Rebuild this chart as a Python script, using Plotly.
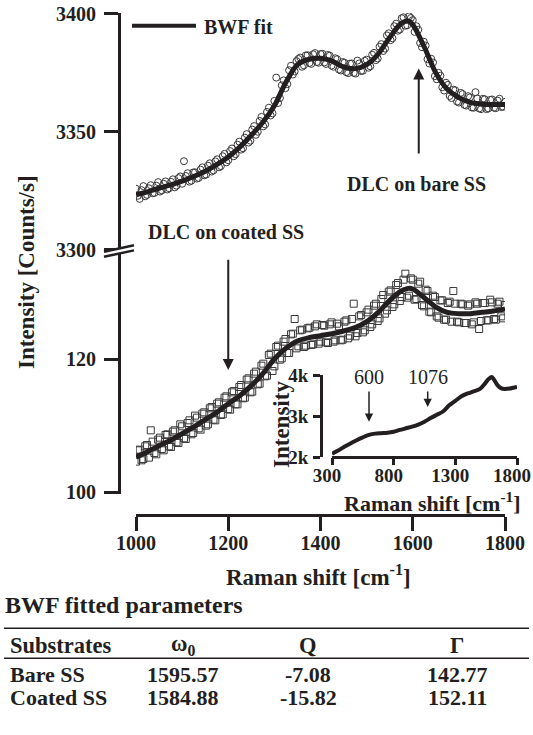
import plotly.graph_objects as go

# ---------------- data ----------------
# Bare SS (upper panel) - measured points (circles), two interleaved sampling grids
bare_x = [1000, 1008, 1016, 1024, 1032, 1040, 1048, 1056, 1064, 1072, 1080, 1088, 1096, 1104, 1112, 1120,
          1128, 1136, 1144, 1152, 1160, 1168, 1176, 1184, 1192, 1200, 1208, 1216, 1224, 1232, 1240, 1248,
          1256, 1264, 1272, 1280, 1288, 1296, 1304, 1312, 1320, 1328, 1336, 1344, 1352, 1360, 1368, 1376,
          1384, 1392, 1400, 1408, 1416, 1424, 1432, 1440, 1448, 1456, 1464, 1472, 1480, 1488, 1496, 1504,
          1512, 1520, 1528, 1536, 1544, 1552, 1560, 1568, 1576, 1584, 1592, 1600, 1608, 1616, 1624, 1632,
          1640, 1648, 1656, 1664, 1672, 1680, 1688, 1696, 1704, 1712, 1720, 1728, 1736, 1744, 1752, 1760,
          1768, 1776, 1784, 1792, 1800]
bare_y = [3325.8, 3321.5, 3326.9, 3323.2, 3327.3, 3324.0, 3328.6, 3325.1, 3328.9, 3326.0, 3329.8, 3327.1,
          3331.0, 3337.5, 3332.4, 3329.2, 3332.8, 3330.4, 3334.9, 3331.8, 3336.6, 3333.6, 3338.3, 3335.4,
          3340.6, 3337.9, 3342.9, 3340.5, 3345.8, 3343.0, 3349.0, 3346.2, 3352.4, 3350.0, 3356.3, 3353.1,
          3360.2, 3357.8, 3373.0, 3364.3, 3371.8, 3370.2, 3378.0, 3375.6, 3380.9, 3377.6, 3382.4, 3379.2,
          3382.9, 3379.6, 3383.0, 3379.4, 3382.6, 3378.1, 3381.2, 3376.4, 3379.6, 3375.3, 3378.9, 3375.0,
          3380.2, 3375.8, 3380.1, 3377.2, 3382.7, 3380.4, 3386.1, 3384.3, 3390.9, 3388.9, 3394.8, 3392.9,
          3398.2, 3395.0, 3399.0, 3397.4, 3394.8, 3387.7, 3388.2, 3380.8, 3381.0, 3373.6, 3375.0, 3368.9,
          3370.8, 3365.2, 3367.9, 3362.8, 3366.5, 3361.4, 3365.1, 3360.3, 3366.8, 3359.9, 3364.0, 3359.6,
          3363.5, 3360.2, 3363.2, 3360.5, 3362.7]
bare_x2 = [1004, 1012, 1020, 1028, 1036, 1044, 1052, 1060, 1068, 1076, 1084, 1092, 1100, 1108, 1116, 1124,
           1132, 1140, 1148, 1156, 1164, 1172, 1180, 1188, 1196, 1204, 1212, 1220, 1228, 1236, 1244, 1252,
           1260, 1268, 1276, 1284, 1292, 1300, 1308, 1316, 1324, 1332, 1340, 1348, 1356, 1364, 1372, 1380,
           1388, 1396, 1404, 1412, 1420, 1428, 1436, 1444, 1452, 1460, 1468, 1476, 1484, 1492, 1500, 1508,
           1516, 1524, 1532, 1540, 1548, 1556, 1564, 1572, 1580, 1588, 1596, 1604, 1612, 1620, 1628, 1636,
           1644, 1652, 1660, 1668, 1676, 1684, 1692, 1700, 1708, 1716, 1724, 1732, 1740, 1748, 1756, 1764,
           1772, 1780, 1788, 1796]
bare_y2 = [3322.8, 3325.2, 3322.6, 3326.0, 3323.9, 3327.1, 3324.6, 3327.9, 3325.5, 3328.7, 3326.4, 3330.3,
           3327.9, 3331.2, 3328.8, 3332.7, 3330.1, 3333.9, 3331.5, 3335.6, 3333.1, 3337.4, 3334.9, 3339.6,
           3337.0, 3341.8, 3339.6, 3344.5, 3342.4, 3347.5, 3345.4, 3350.9, 3348.7, 3354.6, 3352.3, 3358.4,
           3356.9, 3363.1, 3362.2, 3369.7, 3368.5, 3376.1, 3374.3, 3380.0, 3381.5, 3378.2, 3382.5, 3378.8,
           3383.4, 3379.3, 3383.1, 3378.8, 3382.3, 3377.6, 3380.8, 3376.0, 3379.3, 3374.9, 3379.0, 3374.7,
           3379.0, 3375.9, 3380.6, 3377.8, 3383.5, 3381.1, 3387.2, 3385.3, 3391.8, 3389.7, 3395.9, 3393.4,
           3398.6, 3395.2, 3398.3, 3392.4, 3393.3, 3385.9, 3386.6, 3379.0, 3379.4, 3372.3, 3373.8, 3367.5,
           3369.9, 3364.3, 3367.6, 3362.4, 3366.0, 3361.1, 3364.6, 3360.2, 3364.1, 3359.6, 3363.8, 3359.9,
           3363.7, 3360.0, 3364.0, 3360.6]

# Bare SS BWF fit
bare_fit_x = [1000, 1025, 1050, 1075, 1100, 1125, 1150, 1175, 1200, 1225, 1250, 1275, 1300, 1325, 1350,
              1375, 1400, 1425, 1450, 1475, 1500, 1525, 1550, 1575, 1590, 1600, 1625, 1650, 1675, 1700,
              1725, 1750, 1775, 1800]
bare_fit_y = [3323.3, 3324.5, 3326.0, 3327.4, 3329.0, 3331.0, 3333.2, 3336.0, 3339.3, 3343.5, 3348.5,
              3354.0, 3361.0, 3371.0, 3378.5, 3380.8, 3381.2, 3380.0, 3377.5, 3376.8, 3378.5, 3383.0,
              3390.0, 3396.0, 3397.0, 3395.5, 3386.0, 3375.0, 3368.0, 3364.5, 3362.5, 3361.8, 3361.6,
              3361.6]

# Coated SS (lower panel) - measured points (squares)
coat_x = bare_x
coat_y = [104.6, 106.4, 105.0, 107.1, 109.3, 105.9, 107.9, 106.5, 108.6, 106.9, 109.1, 107.5, 110.2, 108.1,
          110.4, 108.7, 111.5, 109.6, 111.8, 110.0, 112.6, 110.9, 113.3, 111.6, 114.2, 112.5, 115.0, 113.2,
          115.8, 114.1, 116.9, 115.0, 117.8, 116.2, 119.0, 117.4, 120.6, 118.2, 121.8, 119.9, 122.6, 120.9,
          123.7, 126.0, 121.9, 124.4, 122.0, 124.7, 122.2, 125.2, 122.6, 125.0, 122.4, 125.5, 122.8, 124.9,
          122.9, 125.8, 123.5, 128.3, 123.9, 126.6, 124.3, 127.4, 125.2, 128.3, 126.1, 129.6, 127.3, 130.3,
          128.2, 131.4, 129.3, 132.8, 129.5, 131.9, 129.0, 131.6, 127.9, 130.2, 127.0, 129.3, 126.2, 128.8,
          125.9, 128.6, 130.2, 125.6, 128.3, 125.4, 128.0, 125.2, 128.5, 124.5, 128.4, 125.8, 128.9, 126.0,
          128.3, 126.4, 128.1]
coat_x2 = bare_x2
coat_y2 = [106.3, 104.8, 106.9, 105.2, 107.6, 105.7, 108.2, 106.3, 108.7, 106.8, 109.3, 107.4, 109.9, 108.0,
           110.8, 108.9, 111.2, 109.4, 112.0, 110.2, 112.8, 110.8, 113.5, 111.7, 114.4, 112.4, 115.2, 113.2,
           116.1, 114.2, 117.1, 115.1, 118.1, 116.3, 119.3, 117.5, 120.8, 118.9, 122.0, 120.1, 123.0, 120.9,
           123.8, 121.6, 124.3, 121.8, 124.6, 122.1, 124.9, 122.3, 125.1, 122.5, 125.2, 122.6, 125.3, 122.8,
           125.6, 123.1, 126.0, 123.4, 126.4, 124.0, 127.0, 124.8, 128.0, 125.7, 129.0, 126.8, 130.1, 127.8,
           131.1, 128.7, 131.9, 129.2, 132.1, 128.9, 131.3, 128.1, 130.4, 127.1, 129.5, 126.4, 128.8, 125.9,
           128.4, 125.6, 128.3, 125.5, 128.2, 125.4, 128.2, 125.5, 128.3, 125.7, 128.4, 125.8, 128.5, 125.9,
           128.6, 126.1]

# Coated SS BWF fit
coat_fit_x = bare_fit_x
coat_fit_y = [105.3, 106.1, 107.0, 107.8, 108.8, 109.8, 110.9, 112.0, 113.3, 114.5, 116.0, 117.8, 120.0,
              121.6, 122.7, 123.2, 123.5, 123.8, 124.2, 124.7, 125.6, 127.0, 128.8, 130.2, 130.6, 130.5,
              129.2, 127.8, 127.0, 126.8, 126.8, 127.0, 127.2, 127.5]

# Inset: full spectrum
inset_x = [300, 350, 400, 450, 500, 550, 600, 650, 700, 750, 800, 850, 900, 950, 1000, 1050, 1100, 1150,
           1200, 1250, 1300, 1350, 1400, 1450, 1500, 1540, 1570, 1595, 1615, 1640, 1670, 1700, 1740, 1770,
           1800]
inset_y = [2080, 2160, 2250, 2330, 2410, 2480, 2540, 2570, 2580, 2590, 2615, 2660, 2700, 2740, 2790, 2860,
           2950, 3030, 3110, 3260, 3370, 3480, 3550, 3600, 3660, 3790, 3900, 3950, 3880, 3760, 3680, 3660,
           3670, 3690, 3710]
inset_marks = [600, 1076]

# Axis ticks
main_xticks = [1000, 1200, 1400, 1600, 1800]
lower_yticks = [100, 120]
upper_yticks = [3300, 3350, 3400]
inset_xticks = [300, 800, 1300, 1800]
inset_yticks = [2000, 3000, 4000]
inset_yticktext = ["2k", "3k", "4k"]

# Table
table_title = "BWF fitted parameters"
table_header = ["Substrates", "ω<sub>0</sub>", "Q", "Γ"]
table_rows = [["Bare SS", "1595.57", "-7.08", "142.77"],
              ["Coated SS", "1584.88", "-15.82", "152.11"]]

# ---------------- layout helpers ----------------
W, H = 533, 735
def PX(px):
    return px / W
def PY(py):
    return 1 - py / H

INK = "#231f20"
MARK = "#3a3a3a"
FONT = "Liberation Serif"

fig = go.Figure()

fig.add_trace(go.Scatter(x=bare_x + bare_x2, y=bare_y + bare_y2, xaxis="x", yaxis="y2", mode="markers",
                         marker=dict(symbol="circle-open", size=7, color=MARK, line=dict(width=1))))
fig.add_trace(go.Scatter(x=bare_fit_x, y=bare_fit_y, xaxis="x", yaxis="y2", mode="lines",
                         line=dict(color=INK, width=5, shape="spline", smoothing=0.9)))
fig.add_trace(go.Scatter(x=coat_x + coat_x2, y=coat_y + coat_y2, xaxis="x", yaxis="y", mode="markers",
                         marker=dict(symbol="square-open", size=7, color=MARK, line=dict(width=1))))
fig.add_trace(go.Scatter(x=coat_fit_x, y=coat_fit_y, xaxis="x", yaxis="y", mode="lines",
                         line=dict(color=INK, width=5, shape="spline", smoothing=0.9)))
fig.add_trace(go.Scatter(x=inset_x, y=inset_y, xaxis="x3", yaxis="y3", mode="lines",
                         line=dict(color=INK, width=4, shape="spline", smoothing=0.8)))

tickfont_main = dict(family=FONT, size=20, color=INK, weight="bold")
tickfont_inset = dict(family=FONT, size=19, color=INK, weight="bold")
common = dict(showgrid=False, zeroline=False, showline=True, linecolor=INK, ticks="outside",
              tickcolor=INK, anchor="free", automargin=False, ticklabeloverflow="allow")

fig.update_layout(
    width=W, height=H, margin=dict(l=0, r=0, t=0, b=0, pad=0, autoexpand=False),
    paper_bgcolor="white", plot_bgcolor="rgba(0,0,0,0)", showlegend=False,
    xaxis=dict(domain=[PX(136), PX(505)], range=[1000, 1800], position=PY(515),
               tickvals=main_xticks, linewidth=3, tickwidth=3, ticklen=14,
               tickfont=tickfont_main, ticklabelstandoff=-5, **common),
    yaxis=dict(domain=[PY(494), PY(249.5)], range=[99.745, 136.43], position=PX(119),
               tickvals=lower_yticks, linewidth=3, tickwidth=3, ticklen=14,
               tickfont=tickfont_main, ticklabelstandoff=4, **common),
    yaxis2=dict(domain=[PY(249.5), PY(13)], range=[3300, 3400.42], position=PX(119),
                tickvals=upper_yticks, linewidth=3, tickwidth=3, ticklen=14,
                tickfont=tickfont_main, ticklabelstandoff=4, **common),
    xaxis3=dict(domain=[PX(332), PX(517)], range=[300, 1800], position=PY(456.7),
                tickvals=inset_xticks, linewidth=2.5, tickwidth=2.5, ticklen=7,
                tickfont=tickfont_inset, ticklabelstandoff=-6, ticklabelshift=-5, **common),
    yaxis3=dict(domain=[PY(457), PY(375)], range=[2000, 4000], position=PX(321),
                tickvals=inset_yticks, ticktext=inset_yticktext, linewidth=2.5, tickwidth=2.5,
                ticklen=7, tickfont=tickfont_inset, ticklabelstandoff=1, **common),
)

ann = []
def txt(x, y, text, size=20, bold=True, xanchor="center", yanchor="middle", angle=0, xref="paper", yref="paper"):
    ann.append(dict(x=x, y=y, xref=xref, yref=yref, text=text, showarrow=False, xanchor=xanchor,
                    yanchor=yanchor, textangle=angle,
                    font=dict(family=FONT, size=size, color=INK, weight="bold" if bold else "normal")))

# axis titles
txt(PX(318), PY(575), "Raman shift [cm<sup>-1</sup>]", size=23)
txt(PX(27), PY(272), "Intensity [Counts/s]", size=23, angle=-90)
txt(PX(432), PY(502), "Raman shift [cm<sup>-1</sup>]", size=22)
txt(PX(281), PY(425), "Intensity", size=23, angle=-90)

# labels
txt(PX(202), PY(27), "BWF fit", size=20, xanchor="left")
txt(PX(416), PY(184), "DLC on bare SS", size=20)
txt(PX(226), PY(232), "DLC on coated SS", size=20)
for m in inset_marks:
    txt(m, PY(377), str(m), size=20, bold=False, xref="x3")

# arrows
def arrow(x, y0, y1, xr, yr, width):
    ann.append(dict(x=x, y=y1, ax=x, ay=y0, xref=xr, yref=yr, axref=xr, ayref=yr, text="",
                    showarrow=True, arrowhead=2, arrowsize=1.1, arrowwidth=width, arrowcolor=INK))
arrow(1613, 3340.1, 3376.9, "x", "y2", 2)
arrow(1200, 135.1, 118.35, "x", "y", 2)
arrow(600, 3634, 2861, "x3", "y3", 1.5)
arrow(1076, 3634, 3220, "x3", "y3", 1.5)

# table
txt(PX(3), PY(605), table_title, size=24, xanchor="left")
col_x = [8, 183, 308, 457]
txt(PX(col_x[0]), PY(645), table_header[0], size=22.5, xanchor="left")
for j in range(1, 4):
    txt(PX(col_x[j]), PY(645), table_header[j], size=22.5)
for i, row in enumerate(table_rows):
    yy = [674.5, 697.5][i]
    txt(PX(col_x[0]), PY(yy), row[0], size=22, xanchor="left")
    for j in range(1, 4):
        txt(PX(col_x[j]), PY(yy), row[j], size=22)

shapes = []
def seg(x0, y0, x1, y1, w, color=INK):
    shapes.append(dict(type="line", xref="paper", yref="paper", x0=PX(x0), y0=PY(y0), x1=PX(x1), y1=PY(y1),
                       line=dict(color=color, width=w), layer="above"))

# legend line
seg(132, 25.7, 196, 25.7, 4)
# axis break
seg(104, 254.2, 134, 247.8, 5, "white")
seg(104, 251.7, 134, 245.2, 2.5)
seg(104, 256.7, 134, 250.4, 2.5)
# table rules
seg(4, 628.3, 529, 628.3, 1.5)
seg(4, 658.3, 529, 658.3, 1.5)

fig.update_layout(annotations=ann, shapes=shapes)
fig.write_html("out.html")
